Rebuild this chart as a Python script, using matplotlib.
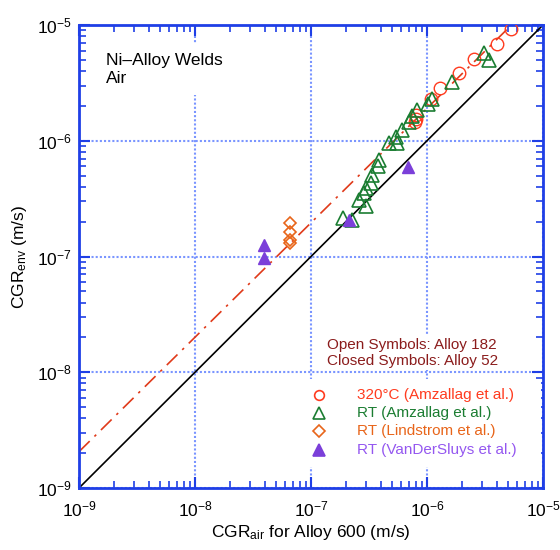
import numpy as np
import matplotlib
matplotlib.use("Agg")
import matplotlib.pyplot as plt
from matplotlib.patches import Rectangle
from matplotlib.ticker import LogLocator, NullFormatter

plt.rcParams['font.family'] = ['Liberation Sans', 'DejaVu Sans']
plt.rcParams['mathtext.fontset'] = 'custom'
plt.rcParams['mathtext.rm'] = 'Liberation Sans'
plt.rcParams['mathtext.it'] = 'Liberation Sans:italic'
plt.rcParams['mathtext.default'] = 'regular'
plt.rcParams['axes.unicode_minus'] = False

# Alloy 182, 320 C (Amzallag et al.)
amz320_air = [5.29e-6, 4.01e-6, 2.56e-6, 1.90e-6, 1.29e-6, 1.09e-6, 7.99e-7, 7.9e-7, 8.1e-7]
amz320_env = [9.18e-6, 6.81e-6, 5.08e-6, 3.87e-6, 2.85e-6, 2.30e-6, 1.67e-6, 1.46e-6, 1.55e-6]

# Alloy 182, RT (Amzallag et al.)
amzrt_air = [1.90e-7, 2.27e-7, 2.59e-7, 2.86e-7, 2.96e-7, 3.38e-7, 3.78e-7, 3.86e-7,
             4.70e-7, 5.37e-7, 5.56e-7, 6.14e-7, 7.00e-7, 7.48e-7, 8.27e-7, 1.03e-6,
             1.10e-6, 1.63e-6, 3.07e-6, 3.44e-6, 3.3e-7, 3.0e-7]
amzrt_env = [2.14e-7, 2.07e-7, 3.08e-7, 3.52e-7, 3.91e-7, 5.06e-7, 6.05e-7, 6.83e-7,
             9.51e-7, 1.08e-6, 9.51e-7, 1.24e-6, 1.46e-6, 1.64e-6, 1.84e-6, 2.08e-6,
             2.30e-6, 3.24e-6, 5.69e-6, 4.99e-6, 4.3e-7, 2.75e-7]

# Alloy 182, RT (Lindstrom et al.)
lind_air = [6.65e-8, 6.65e-8, 6.65e-8, 6.65e-8]
lind_env = [1.95e-7, 1.63e-7, 1.38e-7, 1.32e-7]

# Alloy 52, RT (VanDerSluys et al.)
vds_air = [3.9e-8, 3.9e-8, 2.11e-7, 6.83e-7]
vds_env = [1.26e-7, 9.7e-8, 2.07e-7, 5.93e-7]

# dash-dot trend line end points
fit_air = [1e-9, 5.0e-6]
fit_env = [2.06e-9, 9.36e-6]

blue = '#1f3fe6'
c_red = '#ff3b1f'
c_green = '#1b7d32'
c_orange = '#e8651a'
c_purple = '#7b3fd9'

fig = plt.figure(figsize=(5.6, 5.5), dpi=100)
ax = fig.add_axes([79 / 560, 62 / 550, 464 / 560, 463 / 550])
ax.set_xscale('log')
ax.set_yscale('log')
ax.set_xlim(1e-9, 1e-5)
ax.set_ylim(1e-9, 1e-5)

ax.set_axisbelow(True)
ax.grid(True, which='major', color='#7a95ff', linestyle=(0, (1, 1)), linewidth=1.5)

for side in ax.spines.values():
    side.set_color(blue)
    side.set_linewidth(2)
for axis in (ax.xaxis, ax.yaxis):
    axis.set_major_locator(LogLocator(base=10, numticks=10))
    axis.set_minor_locator(LogLocator(base=10, subs=np.arange(2, 10), numticks=10))
    axis.set_minor_formatter(NullFormatter())
ax.tick_params(which='both', direction='in', top=True, right=True, color=blue,
               labelsize=12.5, labelcolor='black')
ax.tick_params(which='major', length=8, width=1.5)
ax.tick_params(which='minor', length=5, width=1.2)
ax.tick_params(axis='x', pad=8)
ax.tick_params(axis='y', pad=5)

# 1:1 line and trend line
ax.plot([1e-9, 1e-5], [1e-9, 1e-5], color='black', lw=1.2, zorder=2)
ax.plot(fit_air, fit_env, color='#e03a1a', lw=1.2, dashes=(9, 4, 1.5, 4), zorder=2)

ax.plot(amz320_air, amz320_env, 'o', ms=9, mfc='none', mec=c_red, mew=1, zorder=3)
ax.plot(amzrt_air, amzrt_env, '^', ms=10, mfc='none', mec=c_green, mew=1.2, zorder=3)
ax.plot(lind_air, lind_env, 'D', ms=6.5, mfc='none', mec=c_orange, mew=1.2, zorder=3)
ax.plot(vds_air, vds_env, '^', ms=9, color=c_purple, mec=c_purple, zorder=3)

ax.text(0.058, 0.94, 'Ni\u2013Alloy Welds\nAir', transform=ax.transAxes, fontsize=12.5,
        va='top', ha='left', linespacing=1.3,
        bbox=dict(fc='white', ec='none', pad=6), zorder=4)

# legend block
ax.add_patch(Rectangle((0.476, 0.045), 0.52, 0.19, transform=ax.transAxes,
                       fc='white', ec='none', zorder=1))
ax.text(0.534, 0.292, 'Open Symbols: Alloy 182\nClosed Symbols: Alloy 52',
        transform=ax.transAxes, fontsize=11, color='#8b1c1c', va='center', ha='left',
        linespacing=1.15, bbox=dict(fc='white', ec='none', pad=2), zorder=4)

entries = [
    ('o', 'none', c_red, '320\u00b0C (Amzallag et al.)', c_red, 7),
    ('^', 'none', c_green, 'RT (Amzallag et al.)', c_green, 8.5),
    ('D', 'none', c_orange, 'RT (Lindstrom et al.)', c_orange, 6),
    ('^', c_purple, c_purple, 'RT (VanDerSluys et al.)', '#9457f0', 8.5),
]
rows = [0.201, 0.162, 0.123, 0.082]
for (mk, fc, ec, label, tc, ms), ry in zip(entries, rows):
    ax.plot([0.517], [ry], mk, ms=ms, mfc=fc, mec=ec, mew=1.2,
            transform=ax.transAxes, clip_on=False, zorder=4)
    ax.text(0.599, ry, label, transform=ax.transAxes, fontsize=11, color=tc,
            va='center', ha='left', zorder=4)

ax.set_xlabel('CGR$_{air}$ for Alloy 600 (m/s)', fontsize=12.5, labelpad=3)
ax.set_ylabel('CGR$_{env}$ (m/s)', fontsize=12.5, labelpad=6)

fig.savefig('out.png', dpi=100)
